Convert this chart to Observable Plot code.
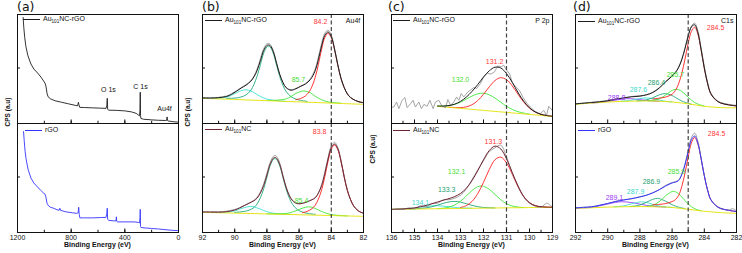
<!DOCTYPE html>
<html><head><meta charset="utf-8">
<script src="https://cdn.jsdelivr.net/npm/d3@7"></script>
<script src="https://cdn.jsdelivr.net/npm/@observablehq/plot@0.6"></script>
<style>
body{margin:0;background:#fff;}
#root{position:relative;width:742px;height:253px;overflow:hidden;background:#fff;font-family:"Liberation Sans",Arial,sans-serif;color:#111;}
#root svg{position:absolute;overflow:visible;}
.t{position:absolute;white-space:nowrap;line-height:1;}
.leg{font-size:7px;}
.leg sub{font-size:4.6px;vertical-align:-1.6px;line-height:0;}
.sw{position:absolute;height:0;border-top:1.2px solid #111;}
.letter{font-family:"DejaVu Sans",sans-serif;font-size:12.5px;}
.cps{font-weight:bold;font-size:6.5px;transform:translate(-50%,-50%) rotate(-90deg);}
.be{font-weight:bold;font-size:7px;transform:translateX(-50%);}
</style></head>
<body><div id="root"></div>
<script>
// ---------- (a) survey spectra ----------
const aTicks = [1200, 800, 400, 0];
const aMinor = [1200, 1000, 800, 600, 400, 200, 0];
const aTop = [[1158,105],[1153,95],[1146,85],[1137,76],[1122,67],[1100,59],[1078,54],[1050,50],[1025,46],[1005,42],[995,40],[988,37],[980,30],[972,26.5],[955,24.5],[920,22.5],[870,21],[820,19.5],[770,18],[752,17.5],[746,21],[742,18.5],[736,16],[700,15.8],[640,15.5],[580,15.2],[540,15],[534,18],[531,25],[528,14],[520,13.2],[460,13],[400,12.5],[350,11.5],[315,10],[300,8.5],[290,7.5],[287,14],[285,31],[283,8],[280,5],[260,4.2],[200,3.6],[150,3.2],[100,3],[88,3.2],[85,6.5],[82,3],[78,2.5],[40,1.8],[0,1.3]];
const aBottom = [[1155,100],[1150,91],[1143,80],[1135,72],[1120,62],[1100,54],[1078,49],[1050,45],[1029,42],[1005,39],[995,38],[988,35],[980,29],[972,27],[955,25],[930,24],[905,22.5],[890,22],[884,24],[880,22],[840,20.5],[790,19.5],[760,19],[748,19.5],[744,25],[740,18],[735,14.5],[700,14.5],[640,14.5],[580,14.8],[540,15],[534,19],[531,24],[528,13],[520,12],[480,11.5],[466,11.5],[463,15.5],[460,11],[455,10.5],[400,10.5],[330,10.5],[300,10],[290,9.5],[287,15],[285,23],[283,6],[280,5],[250,4.5],[200,4],[150,3.5],[100,2.8],[50,2.2],[0,1.8]];

// ---------- (b) Au 4f ----------
const bTicks = [92, 90, 88, 86, 84, 82];
const bMinor = [92, 91, 90, 89, 88, 87, 86, 85, 84, 83, 82];
const bDash = 84;
const bTopData = [[92,25.8],[91.5,25],[91,26],[90.5,27.3],[90.2,29.5],[89.9,32.4],[89.6,35.5],[89.3,38.6],[89,42.5],[88.8,47.2],[88.6,54.5],[88.4,64.5],[88.2,74.2],[88,79],[87.9,79.4],[87.8,78.5],[87.6,72],[87.4,60],[87.2,48.5],[87,40.2],[86.8,35.5],[86.5,33.5],[86.2,34.8],[85.9,37.3],[85.6,39.6],[85.3,44.5],[85,54],[84.8,66],[84.6,79.5],[84.4,89.5],[84.2,92.5],[84,87.5],[83.8,74.5],[83.6,58.8],[83.4,45],[83.2,35.5],[83,29],[82.8,25.5],[82.5,22.8],[82.2,21],[82,20.5]];
const bTopFit = [[92,25.3],[91.5,25.3],[91,25.6],[90.5,26.8],[90.2,28.9],[89.9,31.8],[89.6,35.1],[89.3,37.9],[89,41.9],[88.8,46.3],[88.6,52.9],[88.4,62.4],[88.2,72.3],[88,77.4],[87.9,77.8],[87.8,77.2],[87.6,71.1],[87.4,59.7],[87.2,48.6],[87,40.6],[86.8,35.4],[86.5,33],[86.2,34.4],[85.9,36.8],[85.6,39.2],[85.3,43.5],[85,52.3],[84.8,63.5],[84.6,77],[84.4,87.4],[84.2,90.7],[84,86.2],[83.8,73.8],[83.6,58.4],[83.4,44.9],[83.2,35.8],[83,29.3],[82.8,25.7],[82.5,22.8],[82.2,21.2],[82,20.7]];
const bTopRed = [[86.2,23.6],[85.9,24.8],[85.6,27.4],[85.3,33.4],[85,45.6],[84.8,58.7],[84.6,73.7],[84.4,85.3],[84.2,89.3],[84,85.1],[83.8,73.2],[83.6,58],[83.4,44.6],[83.2,35.6],[83,29.3],[82.8,25.7],[82.5,22.8],[82.2,21.2],[82,20.7]];
const bTopTeal = [[90.5,24.9],[90.2,25],[89.9,25.3],[89.6,26.3],[89.3,28.3],[89,32.9],[88.8,38.8],[88.6,47.3],[88.4,58.4],[88.2,69.7],[88,75.8],[87.9,76.5],[87.8,75.8],[87.6,69.4],[87.4,57.8],[87.2,46.4],[87,37.7],[86.8,31.6],[86.5,26.6],[86.2,24.2],[85.9,22.9],[85.5,21.9]];
const bTopCyan = [[92,25.1],[91.5,25],[91,25.1],[90.5,26.1],[90.2,27.9],[89.9,30.3],[89.6,32.6],[89.3,33.4],[89,32.2],[88.8,30.6],[88.6,28.6],[88.4,26.8],[88.2,25.3],[88,24.2],[87.6,23.1],[87.2,22.4],[86.8,21.9]];
const bTopGreen = [[88,22.8],[87.5,22.9],[87,23.8],[86.8,24.5],[86.5,26.7],[86.2,29.8],[85.9,31.8],[85.7,32.2],[85.5,31.6],[85.3,30.4],[85,27],[84.8,25.1],[84.6,23.5],[84.2,21.4],[83.8,20.7],[83.4,20.1]];
const bTopBase = [[92,25],[90,23.8],[88,22.6],[86,21.4],[84,20.2],[82,19]];
const bBotData = [[92,20.5],[91.5,20.6],[91,20.4],[90.5,21.2],[90,22.8],[89.7,24.7],[89.4,27],[89.1,29.3],[88.8,32],[88.6,35.2],[88.4,40.5],[88.2,48.2],[88,58.8],[87.8,69.5],[87.6,75.5],[87.5,76.3],[87.4,75.5],[87.2,68.8],[87,56.5],[86.8,45],[86.6,36.8],[86.4,31.8],[86.1,28.8],[85.8,29],[85.5,30.5],[85.2,32.5],[85,34.6],[84.8,39.5],[84.6,47.5],[84.4,60],[84.2,74.5],[84,85.8],[83.8,89.4],[83.6,84.5],[83.4,72],[83.2,55.8],[83,41.8],[82.8,32.5],[82.6,26],[82.4,22.4],[82.2,20.2],[82,19]];
const bBotFit = [[92,20.3],[91.5,20.2],[91,20.2],[90.5,20.6],[90,22.3],[89.7,24.2],[89.4,26.6],[89.1,29],[88.8,31.5],[88.6,34.2],[88.4,39.2],[88.2,46.5],[88,56.9],[87.8,67.6],[87.6,73.7],[87.5,74.4],[87.4,73.6],[87.2,67.2],[87,55.6],[86.8,44.3],[86.6,36.2],[86.4,31.3],[86.1,28.5],[85.8,28.9],[85.5,30.4],[85.2,32.5],[85,34.3],[84.8,39],[84.6,46.5],[84.4,58.5],[84.2,72.8],[84,84],[83.8,87.6],[83.6,83],[83.4,70.9],[83.2,55.2],[83,41.6],[82.8,32.4],[82.6,26],[82.4,22.5],[82.2,20.3],[82,19.2]];
const bBotRed = [[85.8,19.6],[85.5,20.9],[85.2,23.6],[85,27],[84.8,33.2],[84.6,42.2],[84.4,55.5],[84.2,70.8],[84,82.6],[83.8,86.7],[83.6,82.4],[83.4,70.5],[83.2,55],[83,41.6],[82.8,32.4],[82.6,26],[82.4,22.5],[82.2,20.3],[82,19.2]];
const bBotTeal = [[90,20],[89.7,20.3],[89.4,20.9],[89.1,22.1],[88.8,24.8],[88.6,28.5],[88.4,34.6],[88.2,43.3],[88,54.7],[87.8,66.2],[87.6,72.4],[87.5,73.2],[87.4,72.4],[87.2,66],[87,54.3],[86.8,42.7],[86.6,33.8],[86.4,27.7],[86.1,22.6],[85.8,20.3],[85.5,19],[85,18]];
const bBotCyan = [[91.5,19.9],[91,19.9],[90.5,20.1],[90,21.4],[89.7,23],[89.4,24.7],[89.1,25.7],[89,25.8],[88.8,25.4],[88.6,24.3],[88.4,23.2],[88.2,21.8],[88,20.6],[87.5,18.9],[87,18.3],[86.5,17.8]];
const bBotGreen = [[88,18.5],[87.4,18.5],[87,18.6],[86.6,19.4],[86.4,20.4],[86.1,22.1],[85.8,24.1],[85.6,25],[85.4,25.4],[85.2,25],[85,23.8],[84.8,22.4],[84.6,20.8],[84.4,19.6],[84,17.8],[83.6,17],[83,16.4]];
const bBotBase = [[92,20],[90,19.2],[88,18.4],[86,17.6],[84,16.8],[82,16]];

// ---------- (c) P 2p ----------
const cTicks = [136, 135, 134, 133, 132, 131, 130, 129];
const cMinor = [135.5, 134.5, 133.5, 132.5, 131.5, 130.5, 129.5];
const cDash = 131;
const cTopData = [[136,16],[135.9,16.3],[135.78,21.3],[135.68,14.7],[135.54,23],[135.42,25.7],[135.32,15.7],[135.17,19.7],[135.06,23],[134.96,16.3],[134.81,21.3],[134.7,14.7],[134.59,19],[134.45,17],[134.33,23],[134.19,14.7],[134.09,21.3],[133.94,23],[133.8,17],[133.65,15.7],[133.55,23.7],[133.43,18],[133.29,21.3],[133.17,26.3],[133.07,23],[132.97,29.7],[132.86,26.3],[132.68,31.3],[132.57,33],[132.42,35.7],[132.3,34.7],[132.13,39.7],[131.99,46.3],[131.84,49.7],[131.67,49],[131.52,51.3],[131.38,57],[131.23,56.3],[131.12,57.7],[131,53],[130.86,49],[130.75,40.3],[130.57,35.7],[130.42,32.3],[130.28,25.7],[130.1,19.7],[129.96,16.3],[129.81,13],[129.67,11],[129.52,9.7],[129.38,13],[129.26,8],[129.16,17],[129.01,13]];
const cTopFit = [[134,17.3],[133.75,17.3],[133.5,17.8],[133.25,19.2],[133,21.9],[132.75,26.1],[132.5,31.8],[132.25,38.6],[132,46],[131.75,52.2],[131.5,55.8],[131.25,55],[131,49.5],[130.75,40.8],[130.5,30.7],[130.25,22],[130,15.5],[129.75,11.4],[129.5,9.1],[129.25,7.9],[129,7.1]];
const cTopRed = [[133.5,16.1],[133,15.8],[132.75,16.5],[132.5,18.6],[132.25,22.7],[132,29],[131.75,36.3],[131.5,42.6],[131.25,45.4],[131,43.4],[130.75,37.3],[130.5,29],[130.25,21.2],[130,15.2],[129.75,11.3],[129.5,9.1],[129.25,7.9],[129,7.1]];
const cTopGreen = [[134,17.3],[133.75,17.3],[133.5,17.7],[133.25,19],[133,21.1],[132.75,24.1],[132.5,27.2],[132.25,29.4],[132,30],[131.75,28.4],[131.5,25.2],[131.25,21.1],[131,17.1],[130.75,14],[130.5,11.7],[130.25,10.3],[130,9.3]];
const cTopBase = [[134,17],[131.5,12],[129,7]];
const cBotData = [[136,22.5],[135.75,23.5],[135.5,22.8],[135.25,24.5],[135,23.5],[134.75,26.5],[134.5,25.5],[134.25,28.5],[134,29],[133.75,32.5],[133.5,32.5],[133.25,34],[133,37],[132.75,43],[132.5,52.5],[132.25,62],[132,71],[131.75,80],[131.5,84],[131.25,86.5],[131,75],[130.75,58.5],[130.5,46.5],[130.25,35],[130,29],[129.75,26],[129.5,25],[129.25,29],[129,25]];
const cBotFit = [[136,23],[135.75,23.1],[135.5,23.4],[135.25,23.7],[135,24.4],[134.75,25.5],[134.5,26.8],[134.25,28.5],[134,30.2],[133.75,31.9],[133.5,33.6],[133.25,35.6],[133,38.7],[132.75,43.7],[132.5,51.4],[132.25,61.3],[132,72.1],[131.75,81.2],[131.5,85.6],[131.25,82.8],[131,73.1],[130.75,59.5],[130.5,46],[130.25,35.7],[130,29.5],[129.75,26.6],[129.5,25.5],[129.25,25.1],[129,25]];
const cBotRed = [[133,24.8],[132.75,26.6],[132.5,30.8],[132.25,38.5],[132,49.7],[131.75,62.3],[131.5,72.1],[131.25,74.7],[131,69],[130.75,57.7],[130.5,45.4],[130.25,35.5],[130,29.5],[129.75,26.6],[129.5,25.5],[129,25]];
const cBotGreen = [[134,23.7],[133.75,24.1],[133.5,25.2],[133.25,27.3],[133,31],[132.75,36.1],[132.5,41.6],[132.25,45.4],[132.1,46.1],[132,45.8],[131.75,42.8],[131.5,37.7],[131.25,32.5],[131,28.5],[130.75,26.3],[130.5,25.2],[130.25,24.7]];
const cBotTeal = [[135.25,23.2],[135,23.4],[134.75,23.8],[134.5,24.4],[134.25,25.5],[134,27.1],[133.75,28.9],[133.5,30.3],[133.25,30.8],[133,30.1],[132.75,28.5],[132.5,26.9],[132.25,25.6],[132,24.8],[131.75,24.5],[131.5,24.3]];
const cBotCyan = [[136,23],[135.5,23.3],[135.25,23.7],[135,24.3],[134.75,25.1],[134.5,25.8],[134.25,26.4],[134,26.5],[133.75,26.1],[133.5,25.5],[133.25,24.9],[133,24.4],[132.5,24.1]];
const cBotBase = [[136,23],[132.5,24],[129,25]];

// ---------- (d) C 1s ----------
const dTicks = [292, 290, 288, 286, 284, 282];
const dMinor = [291, 289, 287, 285, 283];
const dDash = 285;
const dTopData = [[292,19.5],[291,21],[290.5,21.8],[290,22.5],[289.5,24.5],[289,25],[288.5,26.8],[288,27.5],[287.6,28.2],[287.2,31],[286.8,35.5],[286.4,41.8],[286,47.5],[285.8,51],[285.6,56],[285.4,64],[285.2,75],[285,87.5],[284.8,96.5],[284.6,99.5],[284.4,92],[284.2,75],[284,56.5],[283.8,41],[283.6,30.5],[283.3,24],[283,21],[282.5,19],[282,18]];
const dTopFit = [[292,19.4],[291,20.8],[290.5,21.5],[290,22.6],[289.5,24],[289,25.5],[288.5,26.5],[288,27.1],[287.6,28.5],[287.2,30.7],[286.8,35.1],[286.4,41.2],[286,47],[285.8,50.3],[285.6,55.3],[285.4,63.1],[285.2,74.1],[285,86.6],[284.8,95.7],[284.6,97.8],[284.4,90],[284.2,73.5],[284,55],[283.8,40],[283.6,29.6],[283.3,23.5],[283,20.4],[282.5,18.5],[282,17.4]];
const dTopRed = [[287.2,24.2],[286.8,25.1],[286.4,26.2],[286,29],[285.8,32.6],[285.6,39.2],[285.4,49.6],[285.2,63.8],[285,79.5],[284.8,91.3],[284.6,95.4],[284.4,88.7],[284.2,72.9],[284,54.7],[283.8,39.9],[283.6,29.6],[283.3,23.5],[283,20.4],[282.5,18.5],[282,17.4]];
const dTopGreen = [[287.5,22.4],[287.2,22.8],[286.8,24.4],[286.4,28.2],[286,32.8],[285.8,33.8],[285.7,33.9],[285.6,33.5],[285.4,31.8],[285.2,29.1],[285,26.1],[284.8,23.1],[284.6,20.8],[284.4,19.2],[284,17.3]];
const dTopTeal = [[288.2,22.4],[287.8,22.8],[287.6,23.4],[287.2,25.5],[286.8,28.4],[286.4,29.6],[286,27.7],[285.8,25.9],[285.6,24],[285.4,22.3],[285.2,21],[284.8,19.1]];
const dTopCyan = [[289.2,22],[288.8,22.5],[288.5,23.2],[288,24.7],[287.6,25.3],[287.2,24.6],[286.8,23.2],[286.4,22],[286,21.4]];
const dTopPurple = [[291,20.3],[290.5,20.9],[290,21.9],[289.5,23.2],[289,24.4],[288.8,24.6],[288.5,24.5],[288,23.6],[287.6,22.9],[287.2,22.4],[286.8,22]];
const dTopBase = [[292,19],[291,20.3],[290,21.3],[289,22],[288,22.3],[287,22.2],[286,21.3],[285,19.5],[284,17],[283,15.8],[282,15.5]];
const dBotData = [[292,24.2],[291.5,25],[291,25.3],[290.5,27.2],[290,28.6],[289.5,31],[289,32.5],[288.5,33.4],[288,35.5],[287.6,37],[287.2,39.5],[286.8,42.5],[286.4,46.8],[286,49.5],[285.8,50.5],[285.6,52],[285.4,58],[285.2,68],[285,81.5],[284.8,94],[284.6,98.5],[284.4,90.5],[284.2,74],[284,56.5],[283.8,42],[283.6,32.5],[283.3,27],[283,23.5],[282.5,22.5],[282.2,23.5],[282,21]];
const dBotFit = [[292,24.4],[291.5,24.9],[291,25.5],[290.5,26.9],[290,28.8],[289.5,30.7],[289,32.2],[288.5,33.6],[288,35.2],[287.6,36.9],[287.2,39.2],[286.8,42.4],[286.4,46],[286,49.1],[285.8,49.9],[285.6,51.4],[285.4,57.2],[285.2,66.9],[285,80],[284.8,92],[284.6,95.6],[284.4,88.5],[284.2,73.4],[284,56.3],[283.8,42.3],[283.6,32.7],[283.3,26.9],[283,24],[282.5,22],[282,20.8]];
const dBotRed = [[287.2,27.4],[286.8,27.8],[286.4,28.7],[286,30.6],[285.8,32.5],[285.6,36.5],[285.4,45.5],[285.2,58.8],[285,74.8],[284.8,88.8],[284.6,94.1],[284.4,87.8],[284.2,73.1],[284,56.3],[283.8,42.3],[283.6,32.7],[283.3,26.9],[283,24],[282.5,22],[282,20.8]];
const dBotGreen = [[287.6,25.9],[287.2,27],[286.8,30.5],[286.4,36.4],[286,40.6],[285.9,40.7],[285.8,40.4],[285.6,38.4],[285.4,35.2],[285.2,31.6],[285,28.2],[284.8,25.6],[284.6,23.6],[284.4,22.3],[284.2,21.6]];
const dBotTeal = [[288.6,25.8],[288.2,26.5],[288,27.3],[287.6,29.9],[287.2,32.9],[286.9,33.8],[286.8,33.6],[286.4,31],[286,27.5],[285.8,26.2],[285.6,25.1],[285.2,23.7]];
const dBotCyan = [[289.6,25.4],[289,26.4],[288.5,28.5],[288,30.3],[287.9,30.4],[287.6,29.8],[287.2,27.9],[286.8,26.2],[286.4,25.3],[286,24.8]];
const dBotPurple = [[292,24],[291.5,24.4],[291,25],[290.5,26.4],[290,28.2],[289.5,29.9],[289.1,30.5],[288.5,29.6],[288,28.1],[287.6,26.9],[287.2,26],[286.8,25.5],[286.4,25.1]];
const dBotBase = [[292,24],[291,24.5],[290,25.2],[289,25.5],[288,25.7],[287,25.5],[286,24.8],[285,23],[284,21],[283,19.7],[282,19]];

// ---------- styling ----------
const FONT = '"Liberation Sans", Arial, sans-serif';
const C = {red:"#ff2020", green:"#3ee63a", teal:"#1fa878", cyan:"#3fe0d2", purple:"#9a3cff", yellow:"#e2e200",
  grey:"#9a9a9a", black:"#1c1c1c", maroon:"#6e2433", blue:"#3434ff"};
const LC = {red:"#ff3838", green:"#46dc34", teal:"#27a070", cyan:"#3cd8cc", purple:"#9a3cf0"};
const Y_TICK = 55;
const root = document.getElementById("root");

function sub({left, top, domain, majors, minors, layers, labels = [], dash = null, bottom = false}) {
  const W = 161, H = 109, MB = bottom ? 14 : 1;
  const span = domain[0] - domain[1];
  const marks = [];
  for (const L of layers) {
    marks.push(Plot.line(L.data, {x: d => d[0], y: d => d[1], stroke: L.color, strokeWidth: L.w ?? 0.9, curve: L.curve ?? "catmull-rom"}));
  }
  if (dash != null) marks.push(Plot.ruleX([dash], {x: d => d, stroke: "#444", strokeWidth: 1.2, strokeDasharray: "4,2.5"}));
  for (const t of labels) {
    marks.push(Plot.text([t.text], {x: t.x, y: t.y, text: d => d, fill: t.color ?? "#111", fontSize: 7, textAnchor: t.anchor ?? "middle"}));
  }
  marks.push(Plot.ruleX(minors, {x: d => d, y1: 0, y2: 2.2, stroke: "#111"}));
  marks.push(Plot.ruleX(majors, {x: d => d, y1: 0, y2: 3.5, stroke: "#111"}));
  marks.push(Plot.ruleY([Y_TICK], {y: d => d, x1: domain[0], x2: domain[0] - span * 3 / W, stroke: "#111"}));
  marks.push(Plot.frame({stroke: "#111", strokeWidth: 1}));
  if (bottom) marks.push(Plot.axisX(majors, {anchor: "bottom", tickSize: 0, tickPadding: 3, label: null, tickFormat: d => String(d), fontSize: 7}));
  const svg = Plot.plot({
    width: W + 2, height: H + 1 + MB, marginTop: 1, marginRight: 1, marginLeft: 1, marginBottom: MB,
    x: {domain, axis: null}, y: {domain: [0, 108], axis: null},
    style: {fontFamily: FONT, fontSize: "7px", color: "#111", background: "transparent", overflow: "visible"},
    marks
  });
  svg.style.left = (left - 1) + "px";
  svg.style.top = (top - 1) + "px";
  root.appendChild(svg);
}

function txt(html, left, top, cls, css = "") {
  const d = document.createElement("div");
  d.className = "t " + cls;
  d.innerHTML = html;
  d.style.left = left + "px"; d.style.top = top + "px";
  d.style.cssText += css;
  root.appendChild(d);
}
function legend(x, y, color, html) {
  const s = document.createElement("div");
  s.className = "sw"; s.style.left = x + "px"; s.style.top = y + "px"; s.style.width = "17px"; s.style.borderTopColor = color;
  root.appendChild(s);
  txt(html, x + 20, y - 4, "leg");
}

const P = {a: 17, b: 202, c: 391, d: 575};
const TOP = 14, MID = 123;
const base = (data) => ({data, color: C.yellow, w: 0.9});
const grey = (data, curve = "catmull-rom") => ({data, color: C.grey, w: 0.9, curve});

// (a)
sub({left: P.a, top: TOP, domain: [1200, 0], majors: aTicks, minors: aMinor,
  layers: [{data: aTop, color: C.black, w: 0.9, curve: "linear"}],
  labels: [{text: "O 1s", x: 522, y: 33}, {text: "C 1s", x: 283, y: 36}, {text: "Au4f", x: 104, y: 15}]});
sub({left: P.a, top: MID, domain: [1200, 0], majors: aTicks, minors: aMinor, bottom: true,
  layers: [{data: aBottom, color: C.blue, w: 0.9, curve: "linear"}]});

// (b)
sub({left: P.b, top: TOP, domain: [92, 82], majors: bTicks, minors: bMinor, dash: bDash,
  layers: [{data: bTopCyan, color: C.cyan}, {data: bTopTeal, color: C.teal}, {data: bTopGreen, color: C.green}, {data: bTopRed, color: C.red},
    base(bTopBase), grey(bTopData), {data: bTopFit, color: C.black, w: 1}],
  labels: [{text: "84.2", x: 84.67, y: 101, color: LC.red}, {text: "85.7", x: 86.04, y: 43, color: LC.green},
    {text: "Au4f", x: 82.2, y: 102, anchor: "end"}]});
sub({left: P.b, top: MID, domain: [92, 82], majors: bTicks, minors: bMinor, dash: bDash, bottom: true,
  layers: [{data: bBotCyan, color: C.cyan}, {data: bBotTeal, color: C.teal}, {data: bBotGreen, color: C.green}, {data: bBotRed, color: C.red},
    base(bBotBase), grey(bBotData), {data: bBotFit, color: C.maroon, w: 1}],
  labels: [{text: "83.8", x: 84.73, y: 100, color: LC.red}, {text: "85.4", x: 85.85, y: 31, color: LC.green}]});

// (c)
sub({left: P.c, top: TOP, domain: [136, 129], majors: cTicks, minors: cMinor, dash: cDash,
  layers: [{data: cTopGreen, color: C.green}, {data: cTopRed, color: C.red}, base(cTopBase), grey(cTopData, "linear"), {data: cTopFit, color: C.black, w: 1}],
  labels: [{text: "131.2", x: 131.52, y: 61, color: LC.red}, {text: "132.0", x: 133.0, y: 43, color: LC.green},
    {text: "P 2p", x: 129.13, y: 102, anchor: "end"}]});
sub({left: P.c, top: MID, domain: [136, 129], majors: cTicks, minors: cMinor, dash: cDash, bottom: true,
  layers: [{data: cBotCyan, color: C.cyan}, {data: cBotTeal, color: C.teal}, {data: cBotGreen, color: C.green}, {data: cBotRed, color: C.red},
    base(cBotBase), grey(cBotData), {data: cBotFit, color: C.maroon, w: 1}],
  labels: [{text: "131.3", x: 131.57, y: 90, color: LC.red}, {text: "132.1", x: 133.17, y: 60, color: LC.green},
    {text: "133.3", x: 133.6, y: 42, color: LC.teal}, {text: "134.1", x: 134.74, y: 29, color: LC.cyan}]});

// (d)
sub({left: P.d, top: TOP, domain: [292, 282], majors: dTicks, minors: dMinor, dash: dDash,
  layers: [{data: dTopPurple, color: C.purple}, {data: dTopCyan, color: C.cyan}, {data: dTopTeal, color: C.teal}, {data: dTopGreen, color: C.green},
    {data: dTopRed, color: C.red}, base(dTopBase), grey(dTopData), {data: dTopFit, color: C.black, w: 1}],
  labels: [{text: "284.5", x: 283.3, y: 95, color: LC.red}, {text: "285.7", x: 285.79, y: 48, color: LC.green},
    {text: "286.4", x: 286.97, y: 40, color: LC.teal}, {text: "287.6", x: 288.09, y: 33, color: LC.cyan},
    {text: "288.8", x: 289.45, y: 26, color: LC.purple}, {text: "C1s", x: 282.19, y: 102, anchor: "end"}]});
sub({left: P.d, top: MID, domain: [292, 282], majors: dTicks, minors: dMinor, dash: dDash, bottom: true,
  layers: [{data: dBotPurple, color: C.purple}, {data: dBotCyan, color: C.cyan}, {data: dBotTeal, color: C.teal}, {data: dBotGreen, color: C.green},
    {data: dBotRed, color: C.red}, base(dBotBase), grey(dBotData), {data: dBotFit, color: C.blue, w: 1}],
  labels: [{text: "284.5", x: 283.24, y: 98, color: LC.red}, {text: "285.9", x: 285.73, y: 60, color: LC.green},
    {text: "286.9", x: 287.28, y: 50, color: LC.teal}, {text: "287.9", x: 288.27, y: 40, color: LC.cyan},
    {text: "289.1", x: 289.58, y: 34, color: LC.purple}]});

// panel letters, axis titles, legends
txt("(a)", 17, 1, "letter"); txt("(b)", 202, 1, "letter"); txt("(c)", 388, 1, "letter"); txt("(d)", 573, 1, "letter");
txt("CPS (a.u)", 8, 112, "cps"); txt("CPS (a.u)", 188, 112, "cps"); txt("CPS (a.u)", 373, 149, "cps");
for (const k of ["a", "b", "c", "d"]) txt("Binding Energy (eV)", P[k] + 80.5, 241, "be");
const AU = "Au<sub>101</sub>NC";
legend(23, 19, C.black, AU + "-rGO"); legend(25, 130, C.blue, "rGO");
legend(205, 20, C.black, AU + "-rGO"); legend(205, 129, C.maroon, AU);
legend(393, 20, C.black, AU + "-rGO"); legend(393, 130, C.maroon, AU);
legend(578, 21, C.black, AU + "-rGO"); legend(578, 130, C.blue, "rGO");
</script></body></html>
